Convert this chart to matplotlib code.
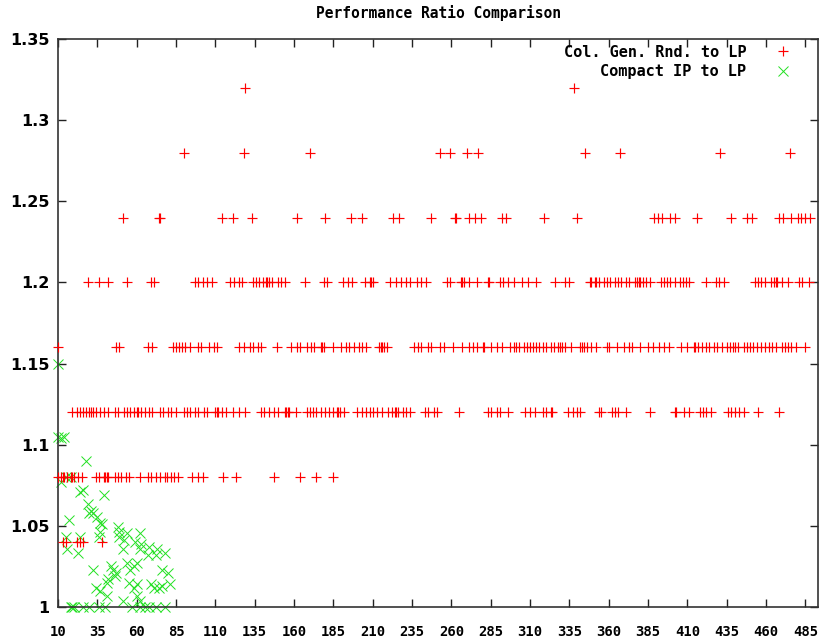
import matplotlib
matplotlib.use("Agg")
import matplotlib.pyplot as plt
from matplotlib.ticker import FuncFormatter

# ---- data ----
colgen_132 = [129, 338]
colgen_128 = [90, 128, 170, 253, 259, 270, 277, 345, 367, 431, 475]
colgen_124 = [51, 74, 75, 114, 121, 133, 162, 180, 196, 203, 223, 227, 247, 262, 263,
              271, 275, 279, 292, 295, 319, 340, 389, 391, 394, 399, 402, 416, 438,
              448, 451, 468, 471, 476, 480, 482, 485, 488]
colgen_120 = [29, 36, 42, 54, 69, 71, 97, 99, 102, 105, 108, 119, 122, 125, 127, 134,
              136, 138, 140, 142, 143, 144, 146, 150, 152, 154, 167, 179, 181, 191, 194,
              197, 205, 208, 209, 210, 221, 225, 228, 231, 234, 238, 241, 244,
              257, 259, 266, 267, 268, 271, 276, 283, 284, 291, 293, 296, 300, 305,
              309, 314, 326, 332, 335, 348, 349, 351, 352, 354, 357, 359, 361, 364,
              366, 368, 371, 373, 377, 378, 379, 380, 382, 384, 386, 393, 395, 397,
              399, 402, 405, 407, 409, 411, 422, 428, 430, 433, 453, 455, 457, 459,
              463, 465, 466, 467, 470, 474, 481, 483, 487]
colgen_116 = [10, 47, 49, 67, 70, 83, 85, 87, 89, 91, 94, 99, 101, 106, 109, 111, 125,
              128, 132, 134, 137, 139, 149, 158, 162, 164, 168, 171, 173, 177, 178,
              179, 185, 190, 193, 195, 198, 201, 203, 206, 214, 215, 216, 217, 219,
              236, 239, 241, 245, 247, 253, 255, 261, 267, 271, 274, 276, 280, 281,
              285, 289, 292, 297, 300, 301, 303, 306, 308, 310, 312, 314, 316, 318,
              320, 323, 325, 328, 329, 330, 332, 336, 342, 343, 344, 346, 349, 352,
              359, 360, 365, 370, 373, 375, 380, 385, 388, 392, 395, 398, 406, 410,
              414, 415, 417, 419, 422, 424, 427, 429, 432, 435, 437, 439, 440, 442,
              446, 448, 450, 452, 454, 457, 459, 462, 464, 466, 470, 472, 474, 476,
              479, 485]
colgen_112 = [19, 22, 24, 26, 28, 30, 31, 32, 34, 37, 39, 42, 46, 48, 52, 54, 56, 58,
              60, 61, 63, 65, 68, 70, 75, 77, 80, 82, 85, 90, 92, 94, 97, 99, 103, 105,
              110, 111, 112, 114, 117, 121, 125, 129, 139, 141, 144, 147, 150, 154,
              155, 156, 157, 161, 168, 170, 172, 174, 177, 180, 182, 185, 187, 188,
              189, 192, 200, 203, 206, 208, 210, 213, 216, 220, 222, 224, 225, 226,
              229, 231, 234, 243, 245, 249, 251, 265, 283, 285, 289, 291, 296, 307,
              310, 313, 318, 320, 323, 324, 334, 337, 340, 342, 354, 355, 362, 364,
              366, 371, 386, 402, 403, 408, 411, 418, 420, 422, 425, 436, 438, 440,
              443, 446, 455, 468]
colgen_108 = [10, 12, 13, 14, 16, 18, 19, 20, 23, 25, 34, 36, 39, 40, 41, 42, 46, 48,
              50, 53, 55, 62, 67, 69, 72, 75, 78, 79, 82, 84, 86, 95, 99, 102, 115,
              123, 147, 164, 174, 185]
colgen_104 = [13, 15, 22, 24, 26, 38]

compact_x = [10, 10, 12, 14, 28, 12, 15, 18, 24, 26, 39, 29, 30, 31, 32, 35, 37, 38,
             17, 37, 36, 15, 24, 48, 49, 49, 54, 62, 52, 59, 63, 51, 62, 68, 73, 78,
             16, 23, 67, 72, 32, 44, 45, 47, 46, 54, 56, 58, 60, 76, 80, 42, 41, 34,
             37, 55, 58, 60, 69, 71, 74, 76, 81, 41, 51, 60, 62, 18, 19, 20, 26, 30,
             36, 40, 57, 62, 65, 68, 72, 78]
compact_y = [1.150, 1.105, 1.104, 1.105, 1.090, 1.077, 1.080, 1.080, 1.071, 1.072,
             1.069, 1.0635, 1.058, 1.059, 1.058, 1.0557, 1.052, 1.051, 1.0536, 1.0464,
             1.0433, 1.0433, 1.0433, 1.049, 1.046, 1.043, 1.0453, 1.0454, 1.041, 1.040,
             1.039, 1.036, 1.036, 1.037, 1.036, 1.033, 1.036, 1.033, 1.032, 1.032,
             1.0228, 1.025, 1.023, 1.021, 1.019, 1.027, 1.023, 1.025, 1.027, 1.023,
             1.021, 1.017, 1.015, 1.012, 1.010, 1.015, 1.012, 1.014, 1.014, 1.012,
             1.012, 1.013, 1.014, 1.007, 1.004, 1.007, 1.004, 1.0, 1.0, 1.0, 1.0, 1.0,
             1.0, 1.0, 1.0, 1.0, 1.0, 1.0, 1.0, 1.0]

levels = [1.32, 1.28, 1.24, 1.20, 1.16, 1.12, 1.08, 1.04]
rows = [colgen_132, colgen_128, colgen_124, colgen_120, colgen_116, colgen_112,
        colgen_108, colgen_104]

x_ticks = list(range(10, 486, 25))
y_ticks = [1.0, 1.05, 1.1, 1.15, 1.2, 1.25, 1.3, 1.35]

colgen_x = []
colgen_y = []
for lv, xs in zip(levels, rows):
    colgen_x.extend(xs)
    colgen_y.extend([lv] * len(xs))

# ---- figure ----
fig = plt.figure(figsize=(8.22, 6.41), dpi=100)
ax = fig.add_axes([58 / 822, 34 / 641, 760 / 822, 568 / 641])

ax.plot(colgen_x, colgen_y, linestyle="none", marker="+", markersize=7,
        markeredgewidth=0.85, color="#ff0000", label="Col. Gen. Rnd. to LP",
        clip_on=False, zorder=3)
ax.plot(compact_x, compact_y, linestyle="none", marker="x", markersize=6.5,
        markeredgewidth=0.7, color="#22e022", label="Compact IP to LP",
        clip_on=False, zorder=2)

ax.set_xlim(10, 493)
ax.set_ylim(1.0, 1.35)
ax.set_xticks(x_ticks)
ax.set_yticks(y_ticks)
ax.yaxis.set_major_formatter(FuncFormatter(lambda v, p: f"{v:g}"))

ax.tick_params(direction="in", length=6, width=1, color="#222222",
               top=True, right=True)
for lab in ax.get_xticklabels():
    lab.set_fontfamily("DejaVu Sans Mono")
    lab.set_fontweight("bold")
    lab.set_fontsize(10)
for lab in ax.get_yticklabels():
    lab.set_fontfamily("DejaVu Sans")
    lab.set_fontweight("bold")
    lab.set_fontsize(11.5)
ax.tick_params(axis="x", pad=13)
ax.tick_params(axis="y", pad=6)

for sp in ax.spines.values():
    sp.set_color("#333333")
    sp.set_linewidth(1.2)

ax.set_title("Performance Ratio Comparison", fontfamily="DejaVu Sans Mono",
             fontweight="bold", fontsize=10.5, pad=15)

leg = ax.legend(loc="upper right", frameon=False, markerfirst=False,
                bbox_to_anchor=(1 - 15 / 760, 1 + 5 / 568),
                prop={"family": "DejaVu Sans Mono", "weight": "bold", "size": 11},
                handlelength=1.2, handletextpad=1.8, labelspacing=0.3,
                borderaxespad=0.3, numpoints=1)

fig.savefig("out.png", dpi=100)
